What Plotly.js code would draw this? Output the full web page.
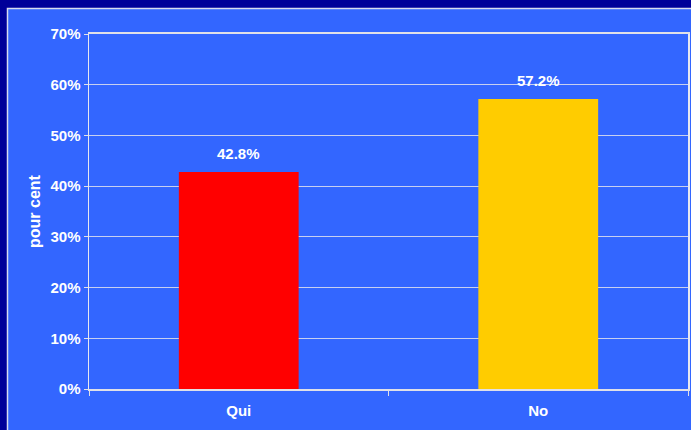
<!DOCTYPE html>
<html>
<head>
<meta charset="utf-8">
<script src="https://cdn.plot.ly/plotly-3.0.1.min.js"></script>
<style>html,body{margin:0;padding:0;background:#000099;}#chart{width:691px;height:430px;}</style>
</head>
<body>
<div id="chart"></div>
<script>
const categories = ["Qui", "No"];
const values = [42.8, 57.2];
const barColors = ["#FF0000", "#FFCC00"];
const yTickValues = [0, 10, 20, 30, 40, 50, 60, 70];
const yTickLabels = ["0%", "10%", "20%", "30%", "40%", "50%", "60%", "70%"];

const W = 691, H = 430, L = 89, R = 3, T = 34, B = 41;
const pw = W - L - R, ph = H - T - B;
const px = v => (v - L) / pw;
const py = v => (H - B - v) / ph;

const font = {family: "Liberation Sans, Arial, sans-serif", size: 15, color: "#FFFFFF"};

const trace = {
  type: "bar",
  x: categories,
  y: values,
  width: 0.4,
  marker: {color: barColors, line: {width: 0}},
  hoverinfo: "skip"
};

const annotations = categories.map((c, i) => ({
  x: c, y: values[i], xref: "x", yref: "y",
  text: "<b>" + values[i].toFixed(1) + "%</b>",
  showarrow: false, yanchor: "bottom", yshift: 8,
  font: font
}));

const layout = {
  width: W, height: H,
  margin: {l: L, r: R, t: T, b: B, pad: 0},
  paper_bgcolor: "#000099",
  plot_bgcolor: "#3366FF",
  showlegend: false,
  font: font,
  shapes: [{
    type: "rect", xref: "paper", yref: "paper",
    x0: px(7.5), x1: px(720), y0: py(450), y1: py(8.5),
    fillcolor: "#3366FF", line: {color: "#D8DCF0", width: 1.5},
    layer: "below"
  }],
  xaxis: {
    type: "category",
    range: [-0.5, 1.5],
    showline: true, linecolor: "#E0E0E8", linewidth: 2,
    mirror: true,
    ticks: "outside", tickson: "boundaries", ticklen: 5, tickcolor: "#E0E0E8", tickwidth: 1,
    tickfont: {family: font.family, size: 15, color: "#FFFFFF"},
    tickprefix: "<b>", ticksuffix: "</b>",
    ticklabelstandoff: 7,
    showgrid: false, zeroline: false, fixedrange: true
  },
  yaxis: {
    range: [0, 70],
    tickvals: yTickValues,
    ticktext: yTickLabels.map(t => "<b>" + t + "</b>"),
    ticks: "outside", ticklen: 4, tickcolor: "#E0E0E8", tickwidth: 1,
    tickfont: {family: font.family, size: 15, color: "#FFFFFF"},
    showline: true, linecolor: "#E8E8F0", linewidth: 1.5, mirror: true,
    showgrid: true, gridcolor: "#C8D0F0", gridwidth: 1,
    zeroline: false, fixedrange: true,
    title: {text: "<b>pour cent</b>", font: {family: font.family, size: 16, color: "#FFFFFF"}, standoff: 6}
  },
  annotations: annotations
};

Plotly.newPlot("chart", [trace], layout, {staticPlot: true, displayModeBar: false});
</script>
</body>
</html>
